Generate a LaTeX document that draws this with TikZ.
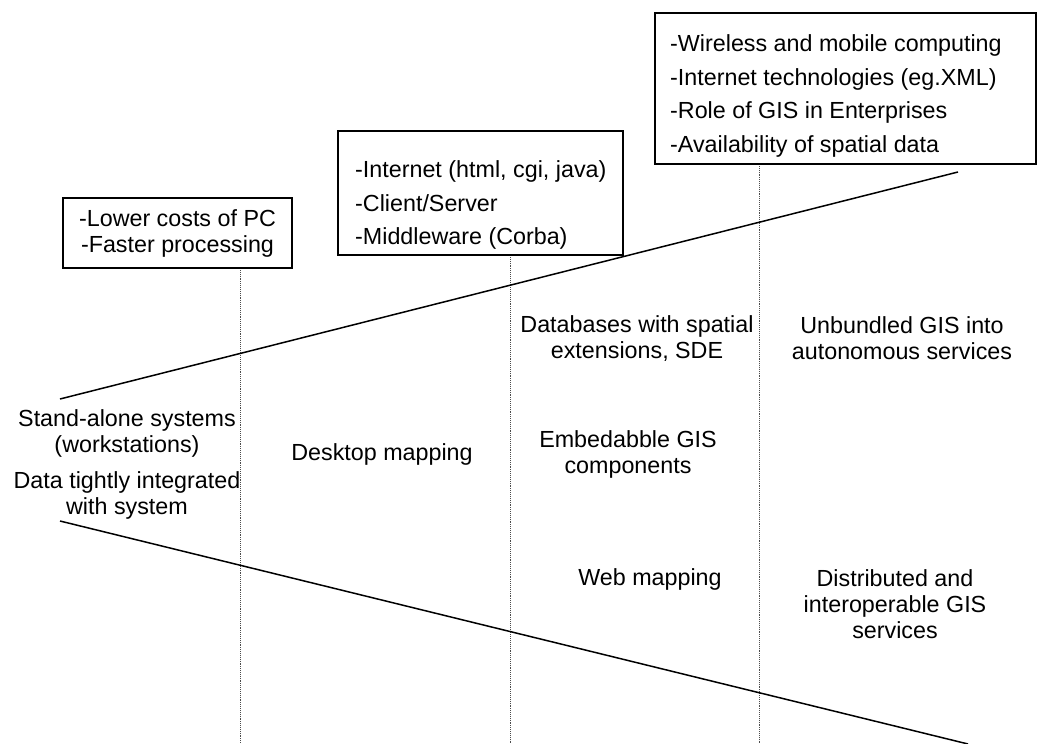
\documentclass[tikz,border=0pt]{standalone}
\usepackage{fontspec}
\setmainfont{Liberation Sans}
\begin{document}
\begin{tikzpicture}[x=1bp,y=-1bp,
  txt/.style={font=\fontsize{23.3bp}{26bp}\selectfont, align=center, inner sep=0pt},
  frame/.style={draw, line width=1.3bp, inner sep=0pt},
  listtxt/.style={font=\fontsize{23.3bp}{33.5bp}\selectfont, align=left, inner sep=0pt, anchor=west},
  trend/.style={line width=1.5bp},
  divider/.style={densely dotted, line width=0.9bp, black!70}]
\useasboundingbox (0,0) rectangle (1042,744);

% drivers of each stage
\node[frame, font=\fontsize{23.3bp}{26bp}\selectfont, align=center,
      minimum width=229bp, minimum height=70bp] (drv1) at (177.5,233)
  {-Lower costs of PC\\-Faster processing};
\node[frame, minimum width=285bp, minimum height=124bp] (drv2) at (480.5,193) {};
\node[listtxt] (drv2t) at (355,205)
  {-Internet (html, cgi, java)\\-Client/Server\\-Middleware (Corba)};
\node[frame, minimum width=381bp, minimum height=151bp] (drv3) at (845.5,88.5) {};
\node[listtxt] (drv3t) at (670,96)
  {-Wireless and mobile computing\\-Internet technologies (eg.XML)\\-Role of GIS in Enterprises\\-Availability of spatial data};

% stage boundaries
\coordinate (t1) at (240,270);
\coordinate (t2) at (510,257);
\coordinate (t3) at (759,166);
\coordinate (b1) at (240,744);
\coordinate (b2) at (510,744);
\coordinate (b3) at (759,744);
\draw[divider] (t1) -- (b1);
\draw[divider] (t2) -- (b2);
\draw[divider] (t3) -- (b3);

% widening funnel
\coordinate (u0) at (60,399);
\coordinate (u1) at (958,172);
\coordinate (l0) at (60,521);
\coordinate (l1) at (968,744);
\draw[trend] (u0) -- (u1);
\draw[trend] (l0) -- (l1);

% stage descriptions
\node[txt] (s1a) at (127,433) {Stand-alone systems\\(workstations)};
\node[txt] (s1b) at (127,495) {Data tightly integrated\\with system};
\node[txt] (s2)  at (382,454) {Desktop mapping};
\node[txt] (s3a) at (637,339) {Databases with spatial\\extensions, SDE};
\node[txt] (s3b) at (628,454) {Embedabble GIS\\components};
\node[txt] (s3c) at (650,579) {Web mapping};
\node[txt] (s4a) at (902,338) {Unbundled GIS into\\autonomous services};
\node[txt] (s4b) at (895,604) {Distributed and\\interoperable GIS\\services};
\end{tikzpicture}
\end{document}
